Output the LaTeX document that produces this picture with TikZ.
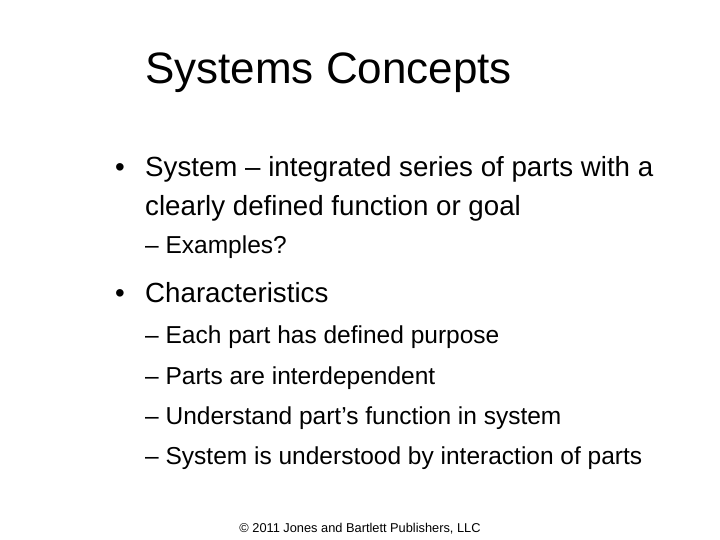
\documentclass[tikz,border=0pt]{standalone}
\usepackage{fontspec}
\setmainfont{Liberation Sans}
\begin{document}
\begin{tikzpicture}[x=1pt,y=-1pt,
  t/.style={anchor=base west,inner sep=0pt},
  lvl1/.style={t,font=\fontsize{27.7}{32}\selectfont},
  lvl2/.style={t,font=\fontsize{24.5}{28}\selectfont}]
\useasboundingbox[fill=white] (0,0) rectangle (720,540);
\node[t,font=\fontsize{44}{48}\selectfont] (title) at (145,84) {Systems Concepts};
\node[lvl1] (b1) at (115,177) {•};
\node[lvl1] (l1) at (145,177) {System – integrated series of parts with a};
\node[lvl1] (l2) at (145,215) {clearly defined function or goal};
\node[lvl2] (ex) at (145,253) {– Examples?};
\node[lvl1] (b2) at (115,302) {•};
\node[lvl1] (ch) at (145,302) {Characteristics};
\node[lvl2] (s1) at (145,343) {– Each part has defined purpose};
\node[lvl2] (s2) at (145,384) {– Parts are interdependent};
\node[lvl2] (s3) at (145,424) {– Understand part’s function in system};
\node[lvl2] (s4) at (145,464) {– System is understood by interaction of parts};
\node[anchor=base,inner sep=0pt,font=\fontsize{12.8}{14}\selectfont] (ft) at (360,532) {© 2011 Jones and Bartlett Publishers, LLC};
\end{tikzpicture}
\end{document}
